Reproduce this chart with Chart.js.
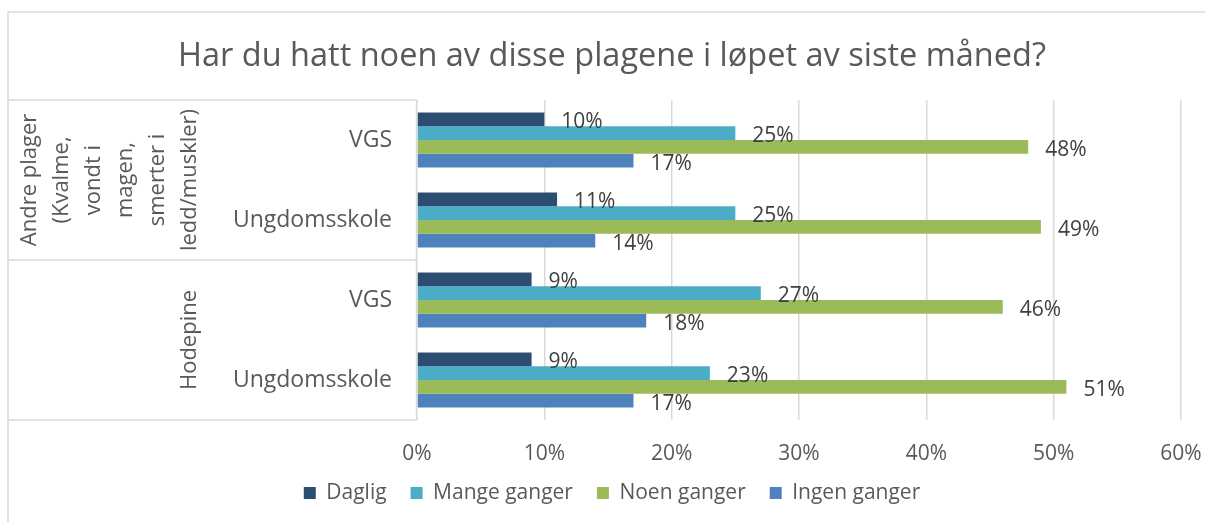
<!DOCTYPE html>
<html>
<head>
<meta charset="utf-8">
<script src="https://cdn.jsdelivr.net/npm/chart.js@4/dist/chart.umd.min.js"></script>
<style>
html,body{margin:0;padding:0;background:#fff;}
#wrap{width:1205px;height:522px;position:relative;}
</style>
</head>
<body>
<div id="wrap"><canvas id="c" width="1205" height="522"></canvas></div>
<script>
const titleText = "Har du hatt noen av disse plagene i løpet av siste måned?";
const categories = ["VGS", "Ungdomsskole", "VGS", "Ungdomsskole"];
const groupLabels = [
  ["Andre plager", "(Kvalme,", "vondt i", "magen,", "smerter i", "ledd/muskler)"],
  ["Hodepine"]
];
const groupSizes = [2, 2];
const seriesNames = ["Daglig", "Mange ganger", "Noen ganger", "Ingen ganger"];
const daglig = [10, 11, 9, 9];
const mangeGanger = [25, 25, 27, 23];
const noenGanger = [48, 49, 46, 51];
const ingenGanger = [17, 14, 18, 17];
const seriesColors = ["#2E4D73", "#4BACC6", "#9BBB59", "#4F81BD"];
const xTicks = [0, 10, 20, 30, 40, 50, 60];

const FONT = "'Open Sans'";
const GRID = "#D9D9D9";
const TEXT = "#595959";
const PAD_LEFT = 43;

const frame = {
  id: "frame",
  beforeDraw(chart) {
    const ctx = chart.ctx;
    ctx.save();
    ctx.strokeStyle = GRID;
    ctx.lineWidth = 1.5;
    ctx.beginPath();
    ctx.moveTo(8, chart.height);
    ctx.lineTo(8, 12);
    ctx.lineTo(chart.width, 12);
    ctx.stroke();
    ctx.restore();
  },
  afterDraw(chart) {
    const ctx = chart.ctx;
    const ys = chart.scales.y;
    const area = chart.chartArea;
    const half = (ys.getPixelForValue(1) - ys.getPixelForValue(0)) / 2;
    ctx.save();
    ctx.strokeStyle = GRID;
    ctx.lineWidth = 1.5;
    let idx = 0;
    const bounds = [];
    groupSizes.forEach((n) => {
      const top = ys.getPixelForValue(idx) - half;
      const bot = ys.getPixelForValue(idx + n - 1) + half;
      bounds.push([top, bot]);
      idx += n;
    });
    ctx.beginPath();
    bounds.forEach(([t, b], i) => {
      if (i === 0) { ctx.moveTo(8, t); ctx.lineTo(area.left, t); }
      ctx.moveTo(8, b); ctx.lineTo(area.left, b);
    });
    ctx.moveTo(area.left - 0.5, bounds[0][0]);
    ctx.lineTo(area.left - 0.5, bounds[bounds.length - 1][1]);
    ctx.stroke();

    ctx.fillStyle = TEXT;
    ctx.font = "22px " + FONT;
    ctx.textAlign = "center";
    ctx.textBaseline = "middle";
    const lineGap = 32;
    const anchorX = area.left - 227;
    bounds.forEach(([t, b], g) => {
      const lines = groupLabels[g];
      const cy = (t + b) / 2;
      ctx.save();
      ctx.translate(anchorX, cy);
      ctx.rotate(-Math.PI / 2);
      lines.forEach((ln, i) => {
        ctx.fillText(ln, 0, (i - (lines.length - 1)) * lineGap);
      });
      ctx.restore();
    });
    ctx.restore();
  },
  afterDatasetsDraw(chart) {
    const ctx = chart.ctx;
    ctx.save();
    ctx.fillStyle = "#404040";
    ctx.font = "21px " + FONT;
    ctx.textAlign = "left";
    ctx.textBaseline = "middle";
    chart.data.datasets.forEach((ds, di) => {
      const meta = chart.getDatasetMeta(di);
      meta.data.forEach((el, i) => {
        ctx.fillText(ds.data[i] + "%", el.x + 17, el.y + 3);
      });
    });
    ctx.restore();
  }
};

new Chart(document.getElementById("c"), {
  type: "bar",
  data: {
    labels: categories,
    datasets: [
      { label: seriesNames[0], data: daglig, backgroundColor: seriesColors[0] },
      { label: seriesNames[1], data: mangeGanger, backgroundColor: seriesColors[1] },
      { label: seriesNames[2], data: noenGanger, backgroundColor: seriesColors[2] },
      { label: seriesNames[3], data: ingenGanger, backgroundColor: seriesColors[3] }
    ]
  },
  options: {
    indexAxis: "y",
    responsive: false,
    animation: false,
    devicePixelRatio: 1,
    datasets: { bar: { categoryPercentage: 0.69, barPercentage: 1.0 } },
    layout: { padding: { top: 0, left: PAD_LEFT, right: 24, bottom: 8.5 } },
    plugins: {
      title: {
        display: true,
        text: titleText,
        color: TEXT,
        font: { family: FONT, size: 32.5, weight: "normal", lineHeight: 1.2 },
        padding: { top: 37, bottom: 24 }
      },
      legend: {
        position: "bottom",
        labels: {
          color: TEXT,
          font: { family: FONT, size: 21 },
          boxWidth: 12,
          boxHeight: 12,
          padding: 24
        }
      },
      tooltip: { enabled: false }
    },
    scales: {
      x: {
        type: "linear",
        min: 0,
        max: 60,
        afterBuildTicks(scale) { scale.ticks = xTicks.map(v => ({ value: v })); },
        ticks: {
          color: TEXT,
          font: { family: FONT, size: 21 },
          padding: 21,
          callback: v => v + "%"
        },
        grid: { color: GRID, lineWidth: 1.5, drawTicks: false },
        border: { display: false },
        afterFit(scale) {
          scale.height = 38.5;
          scale.paddingLeft = 0;
          scale.paddingRight = 0;
          scale._computeLabelArea = () => undefined;
        }
      },
      y: {
        type: "category",
        ticks: {
          color: TEXT,
          font: { family: FONT, size: 23 },
          padding: 25
        },
        grid: { display: false, drawTicks: false },
        border: { display: false },
        afterFit(scale) { scale.width = 417 - PAD_LEFT; }
      }
    }
  },
  plugins: [frame]
});
</script>
</body>
</html>
